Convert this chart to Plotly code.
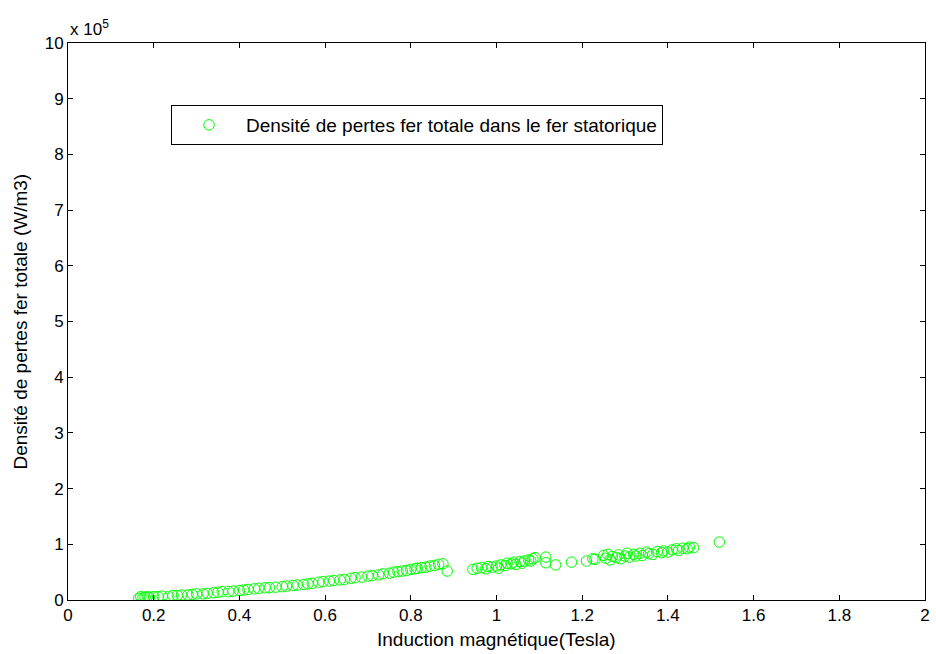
import plotly.graph_objects as go

# Induction (Tesla)
induction = [
    0.165, 0.170, 0.175, 0.180, 0.185, 0.19, 0.20, 0.21, 0.22, 0.235, 0.245, 0.255, 0.265, 0.28,
    0.29, 0.30, 0.315, 0.325, 0.34, 0.35, 0.36, 0.375, 0.385, 0.40, 0.41, 0.42, 0.435, 0.445,
    0.46, 0.47, 0.485, 0.50, 0.51, 0.525, 0.535, 0.55, 0.56, 0.57, 0.585, 0.595, 0.61, 0.62,
    0.635, 0.645, 0.66, 0.67, 0.685, 0.70, 0.71, 0.725, 0.735, 0.75, 0.76, 0.77, 0.78, 0.79,
    0.80, 0.81, 0.815, 0.825, 0.835, 0.845, 0.855, 0.865, 0.875, 0.885,
    0.945, 0.955, 0.965, 0.975, 0.98, 0.99, 1.00, 1.005, 1.01, 1.02, 1.025, 1.035, 1.04, 1.045,
    1.055, 1.06, 1.065, 1.075, 1.08, 1.085, 1.09,
    1.115, 1.115, 1.138, 1.175, 1.21, 1.225, 1.23,
    1.25, 1.255, 1.26, 1.265, 1.27, 1.28, 1.285, 1.29, 1.30, 1.305, 1.31, 1.32, 1.325, 1.335,
    1.34, 1.35, 1.355, 1.365, 1.375, 1.385, 1.39, 1.40, 1.41, 1.42, 1.425, 1.435, 1.445, 1.45,
    1.46, 1.52,
]
# Loss density in units of 10^5 W/m3
density_e5 = [
    0.03, 0.06, 0.04, 0.05, 0.06, 0.05, 0.06, 0.06, 0.07, 0.06, 0.08, 0.08, 0.09, 0.09,
    0.10, 0.11, 0.11, 0.12, 0.13, 0.14, 0.15, 0.15, 0.16, 0.17, 0.18, 0.19, 0.20, 0.21,
    0.22, 0.22, 0.23, 0.24, 0.25, 0.26, 0.27, 0.28, 0.29, 0.30, 0.32, 0.33, 0.34, 0.35,
    0.36, 0.37, 0.39, 0.40, 0.41, 0.43, 0.44, 0.45, 0.47, 0.48, 0.50, 0.51, 0.52, 0.53,
    0.55, 0.56, 0.57, 0.58, 0.59, 0.61, 0.62, 0.64, 0.65, 0.52,
    0.55, 0.57, 0.58, 0.56, 0.60, 0.59, 0.61, 0.57, 0.63, 0.62, 0.66, 0.65, 0.68, 0.64,
    0.69, 0.66, 0.70, 0.72, 0.70, 0.74, 0.76,
    0.77, 0.67, 0.63, 0.68, 0.70, 0.74, 0.73,
    0.80, 0.75, 0.82, 0.72, 0.78, 0.76, 0.81, 0.74, 0.79, 0.84, 0.77, 0.82, 0.79, 0.84,
    0.80, 0.86, 0.83, 0.82, 0.87, 0.85, 0.88, 0.86, 0.90, 0.92, 0.89, 0.93, 0.92, 0.95,
    0.94, 1.04,
]

x_ticks = [0, 0.2, 0.4, 0.6, 0.8, 1, 1.2, 1.4, 1.6, 1.8, 2]
x_tick_labels = ["0", "0.2", "0.4", "0.6", "0.8", "1", "1.2", "1.4", "1.6", "1.8", "2"]
y_ticks = list(range(0, 11))

font_family = "Liberation Sans, Arial, sans-serif"

fig = go.Figure()
fig.add_trace(go.Scatter(
    x=induction, y=density_e5, mode="markers",
    name="Densité de pertes fer totale dans le fer statorique",
    marker=dict(symbol="circle-open", size=10.5, color="#00ff00", line=dict(width=1, color="#00ff00")),
))

axis_common = dict(
    showgrid=False, zeroline=False, showline=True, linecolor="black", linewidth=1,
    mirror="ticks", ticks="inside", ticklen=5, tickcolor="black", automargin=False,
    tickfont=dict(family=font_family, size=17, color="black"),
)

fig.update_layout(
    width=936, height=654,
    margin=dict(l=68, r=11, t=43, b=54),
    paper_bgcolor="white", plot_bgcolor="white",
    font=dict(family=font_family, size=17, color="black"),
    xaxis=dict(range=[0, 2], tickvals=x_ticks, ticktext=x_tick_labels, **axis_common),
    yaxis=dict(range=[0, 10], tickvals=y_ticks, **axis_common),
    showlegend=True,
    legend=dict(x=0.1202, y=0.8887, xanchor="left", yanchor="top",
                bordercolor="black", borderwidth=1, bgcolor="white",
                font=dict(size=19), itemwidth=64, tracegroupgap=0),
    annotations=[
        dict(x=0, y=1, xref="paper", yref="paper", xanchor="left", yanchor="bottom",
             text="x 10<sup>5</sup>", showarrow=False, font=dict(size=17), yshift=2),
        dict(x=0.5, y=0, xref="paper", yref="paper", xanchor="center", yanchor="middle",
             text="Induction magnétique(Tesla)", showarrow=False, font=dict(size=19), yshift=-39),
        dict(x=0, y=0.5, xref="paper", yref="paper", xanchor="center", yanchor="middle",
             text="Densité de pertes fer totale (W/m3)", showarrow=False, font=dict(size=19),
             textangle=-90, xshift=-48),
    ],
)

# remove the default 8px page margin so the 936x654 figure fills the window exactly
fig.write_html("out.html", config={"displayModeBar": False},
               post_script="document.body.style.margin='0';document.body.style.overflow='hidden';")
